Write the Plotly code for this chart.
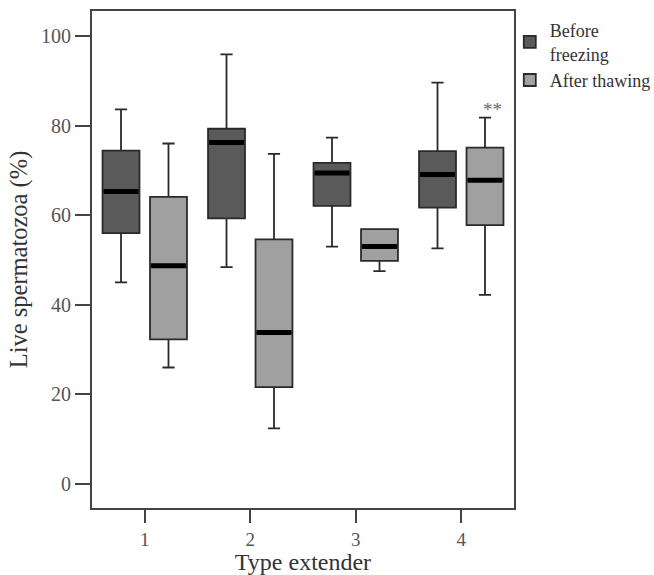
import plotly.graph_objects as go

categories = [1, 2, 3, 4]
tick_labels = ["1", "2", "3", "4"]

# Before freezing
before_lower = [45.0, 48.4, 53.0, 52.6]
before_q1 = [56.0, 59.3, 62.1, 61.7]
before_median = [65.3, 76.2, 69.4, 69.1]
before_q3 = [74.4, 79.3, 71.7, 74.3]
before_upper = [83.6, 95.9, 77.3, 89.6]

# After thawing
after_lower = [26.0, 12.4, 47.5, 42.2]
after_q1 = [32.3, 21.6, 49.8, 57.8]
after_median = [48.7, 33.8, 53.0, 67.8]
after_q3 = [64.1, 54.6, 56.9, 75.1]
after_upper = [76.0, 73.7, 56.9, 81.8]

OFF = 0.225
BW = 0.35
FONT = "Liberation Serif, Times New Roman, serif"

fig = go.Figure()

series = [
    ("Before<br>freezing", -OFF, "#5a5a5a", before_lower, before_q1, before_median, before_q3, before_upper),
    ("After thawing", OFF, "#a0a0a0", after_lower, after_q1, after_median, after_q3, after_upper),
]

for name, off, color, lo, q1, med, q3, up in series:
    xs = [c + off for c in categories]
    fig.add_trace(go.Box(
        name=name, x=xs, q1=q1, median=med, q3=q3,
        lowerfence=lo, upperfence=up, width=BW,
        fillcolor=color, line=dict(color="#2a2a2a", width=1.8),
        whiskerwidth=0.33, boxpoints=False, hoverinfo="skip",
    ))
    mx, my = [], []
    for x, m in zip(xs, med):
        mx += [x - BW / 2 + 0.01, x + BW / 2 - 0.01, None]
        my += [m, m, None]
    fig.add_trace(go.Scatter(x=mx, y=my, mode="lines",
                             line=dict(color="black", width=5),
                             showlegend=False, hoverinfo="skip"))

fig.add_annotation(x=categories[3] + OFF + 0.07, y=after_upper[3], text="**",
                   showarrow=False, yshift=8, font=dict(family=FONT, size=19, color="#666"))

fig.update_layout(
    width=654, height=575,
    margin=dict(l=92, r=140, t=11, b=67, autoexpand=False),
    paper_bgcolor="white", plot_bgcolor="white",
    font=dict(family=FONT, color="#333"),
    showlegend=True,
    legend=dict(x=0.99, y=0.998, xanchor="left", yanchor="top",
                font=dict(family=FONT, size=18, color="#333"),
                bgcolor="rgba(0,0,0,0)"),
    xaxis=dict(range=[0.5, 4.5], tickvals=categories, ticktext=tick_labels,
               ticks="outside", ticklen=13, tickwidth=2, tickcolor="#444",
               showline=True, linecolor="#444", linewidth=2, mirror=True,
               showgrid=False, zeroline=False, automargin=False,
               tickfont=dict(family=FONT, size=19, color="#555"),
               title=dict(text="Type extender", font=dict(family=FONT, size=24, color="#333"), standoff=4)),
    yaxis=dict(range=[-5.36, 105.58], tickvals=[0, 20, 40, 60, 80, 100],
               ticks="outside", ticklen=15, tickwidth=2, tickcolor="#444",
               showline=True, linecolor="#444", linewidth=2, mirror=True,
               showgrid=False, zeroline=False, automargin=False,
               tickfont=dict(family=FONT, size=20, color="#555"),
               title=dict(text="Live spermatozoa (%)", font=dict(family=FONT, size=24.5, color="#333"), standoff=6)),
)

fig.write_html("out.html", config={"displayModeBar": False},
               post_script="document.body.style.margin='0px';")
